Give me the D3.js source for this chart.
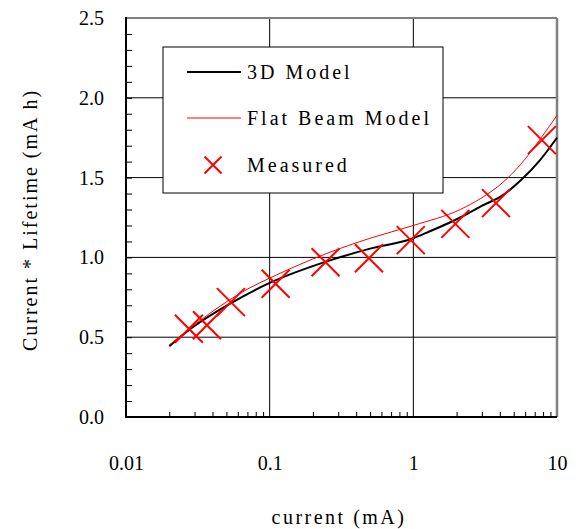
<!DOCTYPE html>
<html>
<head>
<meta charset="utf-8">
<script src="https://cdn.jsdelivr.net/npm/d3@7"></script>
<style>
    body { margin: 0; background: #fff; }
    svg text { font-family: "Liberation Serif", "Times New Roman", Times, serif; fill: #000; }
</style>
</head>
<body>
<svg id="chart" width="578" height="529" font-family="Liberation Serif"></svg>
<script>
"use strict";
// values
const model3DX = [0.02, 0.0279, 0.053, 0.1, 0.25, 0.5, 1, 1.24, 2.12, 2.95, 4.2, 5.55, 7.62, 10];
const model3DY = [0.444, 0.55, 0.71, 0.84, 0.975, 1.055, 1.12, 1.155, 1.25, 1.32, 1.39, 1.48, 1.61, 1.75];
const flatBeamX = [0.02, 0.0384, 0.073, 0.1, 0.25, 0.5, 1, 2.12, 2.95, 4.2, 5.55, 7.62, 10];
const flatBeamY = [0.45, 0.65, 0.81, 0.87, 1.025, 1.12, 1.2, 1.30, 1.37, 1.47, 1.58, 1.74, 1.89];
const measuredX = [0.0274, 0.0366, 0.0537, 0.11, 0.245, 0.491, 0.96, 1.96, 3.76, 7.85];
const measuredY = [0.553, 0.575, 0.72, 0.835, 0.97, 0.995, 1.108, 1.21, 1.34, 1.735];
const xTicks = [0.01, 0.1, 1, 10];
const xTickLabels = ["0.01", "0.1", "1", "10"];
const yTicks = [0, 0.5, 1, 1.5, 2, 2.5];
const legendLabels = ["3D Model", "Flat Beam Model", "Measured"];

const plot = { left: 126, right: 557, top: 18, bottom: 417 };
const serif = "Liberation Serif";
const svg = d3.select("#chart");

const x = d3.scaleLog().domain([0.01, 10]).range([plot.left, plot.right]);
const y = d3.scaleLinear().domain([0, 2.5]).range([plot.bottom, plot.top]);

// minor ticks: 2..9 in each decade, every 0.1 on y
const xMinor = [];
[0.01, 0.1, 1].forEach((d) => { for (let k = 2; k <= 9; k++) xMinor.push(d * k); });
const yMinor = d3.range(1, 25).map((i) => i / 10);

// gridlines
const grid = svg.append("g").attr("stroke", "#000").attr("stroke-width", 1);
grid.selectAll("line.gx").data(xTicks.slice(1, -1)).enter().append("line")
    .attr("x1", (d) => x(d)).attr("x2", (d) => x(d))
    .attr("y1", plot.top).attr("y2", plot.bottom);
grid.selectAll("line.gy").data(yTicks.slice(1, -1)).enter().append("line")
    .attr("x1", plot.left).attr("x2", plot.right)
    .attr("y1", (d) => y(d)).attr("y2", (d) => y(d));

// minor tick marks pointing inward
svg.append("g").attr("transform", `translate(0,${plot.bottom})`)
    .call(d3.axisBottom(x).tickValues(xMinor).tickSize(-5).tickFormat(""))
    .call((g) => g.select(".domain").remove())
    .call((g) => g.selectAll("line").attr("stroke", "#000"));
svg.append("g").attr("transform", `translate(${plot.left},0)`)
    .call(d3.axisLeft(y).tickValues(yMinor).tickSize(-6).tickFormat(""))
    .call((g) => g.select(".domain").remove())
    .call((g) => g.selectAll("line").attr("stroke", "#000"));

// tick labels
svg.append("g").attr("transform", `translate(0,${plot.bottom})`)
    .call(d3.axisBottom(x).tickValues(xTicks).tickSize(0).tickPadding(39)
        .tickFormat((d, i) => xTickLabels[i]))
    .attr("font-family", serif).attr("font-size", 20)
    .call((g) => g.select(".domain").remove());
svg.append("g").attr("transform", `translate(${plot.left},0)`)
    .call(d3.axisLeft(y).tickValues(yTicks).tickSize(0).tickPadding(22).tickFormat(d3.format(".1f")))
    .attr("font-family", serif).attr("font-size", 20)
    .call((g) => g.select(".domain").remove());

// frame: grey top/right, black left/bottom
svg.append("line").attr("x1", plot.left).attr("x2", plot.right).attr("y1", plot.top).attr("y2", plot.top)
    .attr("stroke", "#808080").attr("stroke-width", 2);
svg.append("line").attr("x1", plot.right).attr("x2", plot.right).attr("y1", plot.top).attr("y2", plot.bottom)
    .attr("stroke", "#808080").attr("stroke-width", 2.5);
svg.append("line").attr("x1", plot.left).attr("x2", plot.left).attr("y1", plot.top - 1).attr("y2", plot.bottom + 1)
    .attr("stroke", "#000").attr("stroke-width", 2);
svg.append("line").attr("x1", plot.left).attr("x2", plot.right).attr("y1", plot.bottom).attr("y2", plot.bottom)
    .attr("stroke", "#000").attr("stroke-width", 2);

// curves
const line = d3.line().x((d) => x(d[0])).y((d) => y(d[1])).curve(d3.curveMonotoneX);
svg.append("path").datum(d3.zip(model3DX, model3DY))
    .attr("d", line).attr("fill", "none").attr("stroke", "#000").attr("stroke-width", 2);
svg.append("path").datum(d3.zip(flatBeamX, flatBeamY))
    .attr("d", line).attr("fill", "none").attr("stroke", "#ff0000").attr("stroke-width", 1);

// measured crosses
const cross = (s) => `M${-s},${-s}L${s},${s}M${-s},${s}L${s},${-s}`;
svg.append("g").selectAll("path").data(d3.zip(measuredX, measuredY)).enter().append("path")
    .attr("transform", (d) => `translate(${x(d[0])},${y(d[1])})`)
    .attr("d", cross(14)).attr("fill", "none").attr("stroke", "#ff0000").attr("stroke-width", 2);

// legend
const legend = svg.append("g").attr("transform", "translate(163,47)");
legend.append("rect").attr("width", 280).attr("height", 146)
    .attr("fill", "#fff").attr("stroke", "#000").attr("stroke-width", 1);
const rowY = [25, 71, 118];
legend.append("line").attr("x1", 24).attr("x2", 78).attr("y1", rowY[0]).attr("y2", rowY[0])
    .attr("stroke", "#000").attr("stroke-width", 2);
legend.append("line").attr("x1", 24).attr("x2", 78).attr("y1", rowY[1]).attr("y2", rowY[1])
    .attr("stroke", "#ff0000").attr("stroke-width", 1);
legend.append("path").attr("transform", `translate(50,${rowY[2]})`)
    .attr("d", cross(8.5)).attr("fill", "none").attr("stroke", "#ff0000").attr("stroke-width", 2);
legend.selectAll("text").data(legendLabels).enter().append("text")
    .attr("x", 84).attr("y", (d, i) => rowY[i]).attr("dy", "0.35em")
    .attr("font-family", serif).attr("font-size", 20).attr("letter-spacing", "3px").text((d) => d);

// axis titles
svg.append("text").attr("x", 339).attr("y", 524)
    .attr("text-anchor", "middle").attr("font-family", serif).attr("font-size", 20)
    .attr("letter-spacing", "2.5px").text("current (mA)");
svg.append("text").attr("transform", "translate(37,220) rotate(-90)")
    .attr("text-anchor", "middle").attr("font-family", serif).attr("font-size", 20)
    .attr("letter-spacing", "2px").text("Current * Lifetime (mA h)");
</script>
</body>
</html>
